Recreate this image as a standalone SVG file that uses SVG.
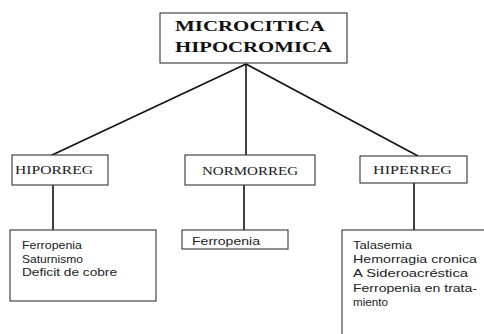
<svg xmlns="http://www.w3.org/2000/svg" width="484" height="334" viewBox="0 0 484 334">
<style>
.box{fill:#fff;stroke:#333;stroke-width:1.1}
.con{stroke:#111;stroke-width:1.6;fill:none}
.title{font-family:"Liberation Serif",serif;font-weight:bold;font-size:15px;fill:#111}
.lvl{font-family:"Liberation Serif",serif;font-size:12.5px;fill:#222}
.item{font-family:"Liberation Sans",sans-serif;font-size:11.5px;fill:#222}
</style>
<rect width="484" height="334" fill="#fff"/>
<g id="connectors">
<line class="con" x1="246" y1="64" x2="50" y2="156"/>
<line class="con" x1="246" y1="64" x2="246" y2="155"/>
<line class="con" x1="246" y1="64" x2="418" y2="156"/>
<line class="con" x1="53" y1="185" x2="53" y2="230"/>
<line class="con" x1="244" y1="185" x2="244" y2="230"/>
<line class="con" x1="414" y1="183" x2="414" y2="230"/>
</g>
<g id="root">
<rect class="box" x="160" y="13" width="187" height="50"/>
<text class="title" x="175" y="31" textLength="150" lengthAdjust="spacingAndGlyphs">MICROCITICA</text>
<text class="title" x="175" y="52" textLength="157" lengthAdjust="spacingAndGlyphs">HIPOCROMICA</text>
</g>
<g id="hiporreg">
<rect class="box" x="12" y="155" width="96" height="30"/>
<text class="lvl" x="15" y="174" textLength="78" lengthAdjust="spacingAndGlyphs">HIPORREG</text>
</g>
<g id="normorreg">
<rect class="box" x="185" y="155" width="130" height="30"/>
<text class="lvl" x="202" y="175" textLength="96" lengthAdjust="spacingAndGlyphs">NORMORREG</text>
</g>
<g id="hiperreg">
<rect class="box" x="360" y="156" width="107" height="27"/>
<text class="lvl" x="373" y="174" textLength="79" lengthAdjust="spacingAndGlyphs">HIPERREG</text>
</g>
<g id="hipo-causes">
<rect class="box" x="10" y="230" width="146" height="71"/>
<text class="item" x="22" y="249" textLength="60" lengthAdjust="spacingAndGlyphs">Ferropenia</text>
<text class="item" x="22" y="263" textLength="61" lengthAdjust="spacingAndGlyphs">Saturnismo</text>
<text class="item" x="22" y="276" textLength="95" lengthAdjust="spacingAndGlyphs">Deficit de cobre</text>
</g>
<g id="normo-causes">
<rect class="box" x="182" y="230" width="106" height="19"/>
<text class="item" x="192" y="245" textLength="68" lengthAdjust="spacingAndGlyphs">Ferropenia</text>
</g>
<g id="hiper-causes">
<rect class="box" x="342" y="230" width="160" height="120"/>
<text class="item" x="353" y="249" textLength="59" lengthAdjust="spacingAndGlyphs">Talasemia</text>
<text class="item" x="353" y="263" textLength="124" lengthAdjust="spacingAndGlyphs">Hemorragia cronica</text>
<text class="item" x="353" y="277" textLength="115" lengthAdjust="spacingAndGlyphs">A Sideroacréstica</text>
<text class="item" x="353" y="292" textLength="124" lengthAdjust="spacingAndGlyphs">Ferropenia en trata-</text>
<text class="item" x="353" y="306" textLength="35" lengthAdjust="spacingAndGlyphs">miento</text>
</g>
</svg>
